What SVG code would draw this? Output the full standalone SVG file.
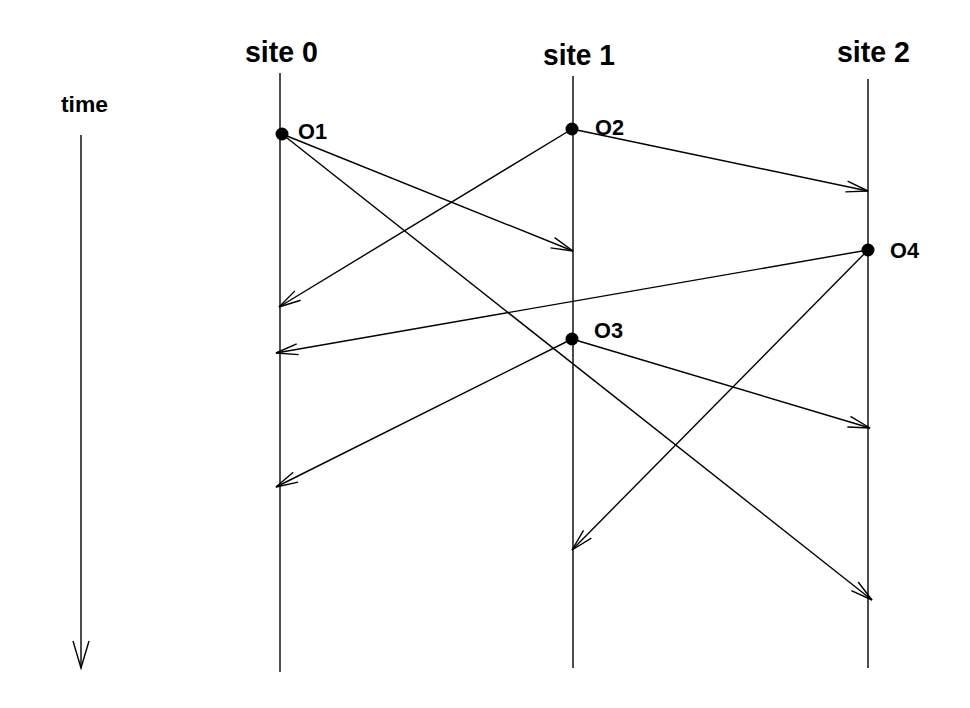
<svg xmlns="http://www.w3.org/2000/svg" width="970" height="708" viewBox="0 0 970 708">
<style>
.ln{stroke:#000;stroke-width:1.4;fill:none}
.site{font-family:"Liberation Sans",Arial,sans-serif;font-weight:bold;font-size:29px;fill:#000}
.lbl{font-family:"Liberation Sans",Arial,sans-serif;font-weight:bold;font-size:22px;fill:#000}
.dot{fill:#000}
</style>
<defs>
<marker id="ah" markerUnits="userSpaceOnUse" orient="auto" viewBox="-24 -8 26 16" refX="0" refY="0" markerWidth="26" markerHeight="16" overflow="visible">
<path d="M-22,-5.5 L0,0 L-22,5.5" fill="none" stroke="#000" stroke-width="1.4"/>
</marker>
<marker id="ahbig" markerUnits="userSpaceOnUse" orient="auto" viewBox="-30 -10 32 20" refX="0" refY="0" markerWidth="32" markerHeight="20" overflow="visible">
<path d="M-27,-8 L0,0 L-27,8" fill="none" stroke="#000" stroke-width="1.4"/>
</marker>
</defs>
<rect width="970" height="708" fill="#fff"/>
<g id="time">
<text class="lbl" x="61" y="112" textLength="47" lengthAdjust="spacingAndGlyphs">time</text>
<line class="ln" x1="81" y1="135" x2="81" y2="668" marker-end="url(#ahbig)"/>
</g>
<g id="site0">
<text class="site" x="245" y="62" textLength="73" lengthAdjust="spacingAndGlyphs">site 0</text>
<line class="ln" x1="280" y1="73" x2="280" y2="672"/>
</g>
<g id="site1">
<text class="site" x="543" y="65" textLength="72" lengthAdjust="spacingAndGlyphs">site 1</text>
<line class="ln" x1="573" y1="76" x2="573" y2="668"/>
</g>
<g id="site2">
<text class="site" x="837" y="62" textLength="73" lengthAdjust="spacingAndGlyphs">site 2</text>
<line class="ln" x1="868" y1="79" x2="868" y2="668"/>
</g>
<g id="connectors">
<line class="ln" x1="282" y1="134" x2="573" y2="251" marker-end="url(#ah)"/>
<line class="ln" x1="282" y1="134" x2="872" y2="600" marker-end="url(#ah)"/>
<line class="ln" x1="572" y1="129" x2="868" y2="191" marker-end="url(#ah)"/>
<line class="ln" x1="572" y1="129" x2="279" y2="307" marker-end="url(#ah)"/>
<line class="ln" x1="868" y1="250" x2="276" y2="353" marker-end="url(#ah)"/>
<line class="ln" x1="868" y1="250" x2="572" y2="550" marker-end="url(#ah)"/>
<line class="ln" x1="572" y1="339" x2="276" y2="487" marker-end="url(#ah)"/>
<line class="ln" x1="572" y1="339" x2="870" y2="428" marker-end="url(#ah)"/>
</g>
<g id="O1">
<circle class="dot" cx="282" cy="134" r="6.5"/>
<text class="lbl" x="298" y="139" textLength="29" lengthAdjust="spacingAndGlyphs">O1</text>
</g>
<g id="O2">
<circle class="dot" cx="572" cy="129" r="6.5"/>
<text class="lbl" x="595" y="135" textLength="29" lengthAdjust="spacingAndGlyphs">O2</text>
</g>
<g id="O3">
<circle class="dot" cx="572" cy="339" r="6.5"/>
<text class="lbl" x="594" y="338" textLength="29" lengthAdjust="spacingAndGlyphs">O3</text>
</g>
<g id="O4">
<circle class="dot" cx="868" cy="250" r="6.5"/>
<text class="lbl" x="890" y="258" textLength="29" lengthAdjust="spacingAndGlyphs">O4</text>
</g>
</svg>
